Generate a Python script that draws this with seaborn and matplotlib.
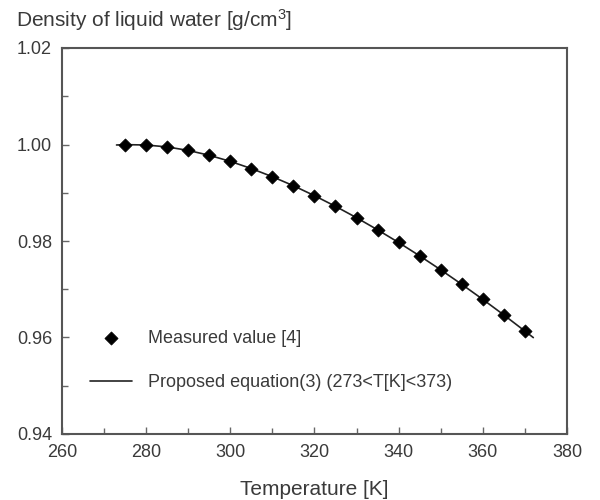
import matplotlib
matplotlib.use("Agg")
import matplotlib.pyplot as plt
import numpy as np
import pandas as pd
import seaborn as sns
from matplotlib.ticker import MultipleLocator

# measured density of liquid water
temp_measured = [275, 280, 285, 290, 295, 300, 305, 310, 315, 320,
                 325, 330, 335, 340, 345, 350, 355, 360, 365, 370]
dens_measured = [0.99997, 0.99990, 0.99950, 0.99878, 0.99777, 0.99651, 0.99502,
                 0.99333, 0.99146, 0.98940, 0.98719, 0.98483, 0.98232, 0.97969,
                 0.97692, 0.97403, 0.97102, 0.96790, 0.96467, 0.96133]

# proposed equation curve
temp_eq = [273, 275, 280, 285, 290, 295, 300, 305, 310, 315, 320, 325,
           330, 335, 340, 345, 350, 355, 360, 365, 370, 372]
dens_eq = [0.99990, 0.99997, 0.99990, 0.99950, 0.99878, 0.99777, 0.99651, 0.99502,
           0.99333, 0.99146, 0.98940, 0.98719, 0.98483, 0.98232, 0.97969,
           0.97692, 0.97403, 0.97102, 0.96790, 0.96467, 0.96133, 0.95998]

df_meas = pd.DataFrame({'T': temp_measured, 'rho': dens_measured})
df_eq = pd.DataFrame({'T': temp_eq, 'rho': dens_eq})

sns.set_style("ticks")
plt.rcParams['font.family'] = ['Liberation Sans', 'DejaVu Sans']
plt.rcParams['mathtext.fontset'] = 'custom'
plt.rcParams['mathtext.rm'] = 'Liberation Sans'
txt = '#3a3a3a'

fig = plt.figure(figsize=(6, 5), dpi=100)
ax = fig.add_axes([0.103, 0.132, 0.842, 0.772])

sns.lineplot(data=df_eq, x='T', y='rho', ax=ax, color='#222222', lw=1.2,
             label='Proposed equation(3) (273<T[K]<373)')
sns.scatterplot(data=df_meas, x='T', y='rho', ax=ax, marker='D', s=45,
                color='black', edgecolor='black', linewidth=0.5,
                label='Measured value [4]', zorder=3)

ax.set_xlim(260, 380)
ax.set_ylim(0.94, 1.02)
ax.xaxis.set_major_locator(MultipleLocator(20))
ax.xaxis.set_minor_locator(MultipleLocator(10))
ax.yaxis.set_major_locator(MultipleLocator(0.02))
ax.yaxis.set_minor_locator(MultipleLocator(0.01))
ax.yaxis.set_major_formatter(matplotlib.ticker.FormatStrFormatter('%.2f'))
ax.tick_params(which='both', direction='in', colors='#666666', labelcolor=txt,
               labelsize=13)
ax.tick_params(which='major', length=5, width=1)
ax.tick_params(which='minor', length=4, width=1)
ax.tick_params(axis='x', pad=7)
ax.tick_params(axis='y', pad=7)
for sp in ax.spines.values():
    sp.set_color('#555555')
    sp.set_linewidth(1.5)

ax.set_xlabel('Temperature [K]', fontsize=15, color=txt, labelpad=14)
ax.set_ylabel('')
fig.text(0.027, 0.96, 'Density of liquid water [g/cm$\\mathregular{^3}$]', fontsize=15,
         color=txt, ha='left', va='center')

handles, labels = ax.get_legend_handles_labels()
leg = ax.legend(handles[::-1], labels[::-1], loc='upper left',
                bbox_to_anchor=(0.055, 0.27), frameon=False, fontsize=13,
                handlelength=2.33, handletextpad=0.9, labelspacing=1.5,
                borderaxespad=0, borderpad=0)
for t in leg.get_texts():
    t.set_color(txt)

fig.savefig('out.png', dpi=100)
